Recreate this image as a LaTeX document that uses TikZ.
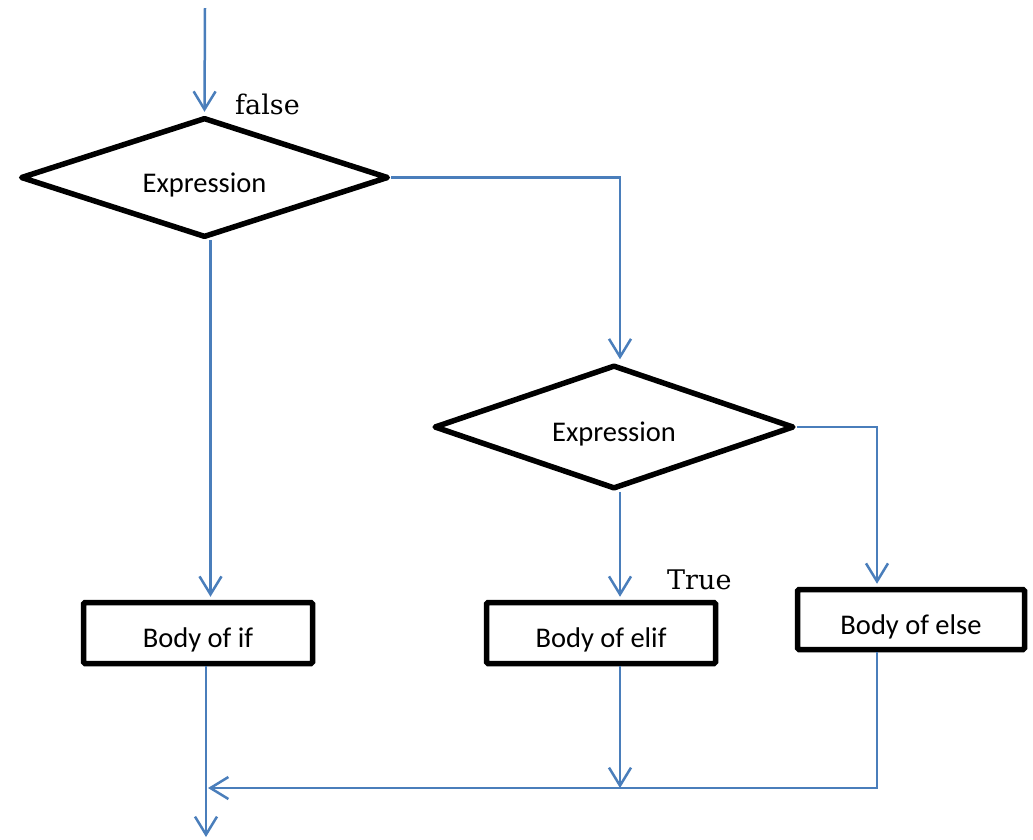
\documentclass[tikz,border=0pt]{standalone}
\usepackage{fontspec}
\setmainfont{Carlito}
\newfontfamily\labelfont{DejaVu Serif}
\usetikzlibrary{shapes.geometric,arrows.meta,calc}
\definecolor{flowblue}{RGB}{74,126,187}
\tikzset{
  decision/.style={diamond, aspect=3, draw=black, line width=5.5pt, line join=round,
    inner sep=0pt, text height=29pt, text depth=0pt,
    font=\fontsize{28.5}{30}\selectfont},
  stepbox/.style={rectangle, draw=black, line width=5.5pt, rounded corners=1.5pt,
    inner sep=0pt, text height=29pt, text depth=0pt,
    font=\fontsize{28.5}{30}\selectfont},
  flow/.style={draw=flowblue, line width=2.5pt,
    -{Straight Barb[length=18pt,width=22pt]}},
  branchlabel/.style={anchor=base west, inner sep=0pt,
    font=\labelfont\fontsize{27}{29}\selectfont}
}
\begin{document}
\begin{tikzpicture}[x=1pt,y=-1pt]
\useasboundingbox (0,0) rectangle (1033,839);

% decisions
\node[decision, minimum width=368pt, minimum height=120pt] (d1) at (204.5,177.5) {Expression};
\node[decision, minimum width=360pt, minimum height=124pt] (d2) at (614,427) {Expression};

% bodies
\node[stepbox, minimum width=229pt, minimum height=61pt] (bif)   at (198,633)   {Body of if};
\node[stepbox, minimum width=229pt, minimum height=61pt] (belif) at (601,633)   {Body of elif};
\node[stepbox, minimum width=227pt, minimum height=60pt] (belse) at (911,619.5) {Body of else};

% branch labels
\node[branchlabel] (lfalse) at (235,114) {false};
\node[branchlabel] (ltrue)  at (667,589) {True};

% free ends
\coordinate (entry) at (205,8);
\coordinate (join)  at (208,788);
\coordinate (exit)  at (206,837);

% connectors
\draw[flow] (entry) -- ($(d1.north)+(0,-3)$);
\draw[flow] ($(d1.south)+(6,0)$) -- ($(d1.south |- bif.north)+(6,-3)$);
\draw[flow] (d1.east) -| ($(d2.north)+(6,-3)$);
\draw[flow] ($(d2.south)+(6,0)$) -- ($(d2.south |- belif.north)+(6,-3)$);
\draw[flow] (d2.east) -| ($(belse.north)+(-34,-3)$);
\draw[flow] ($(belif.south)+(19,0)$) -- ($(belif.south |- join)+(19,0)$);
\draw[flow] ($(belse.south)+(-34,0)$) |- (join);
\draw[flow] ($(bif.south)+(8,0)$) -- (exit);
\end{tikzpicture}
\end{document}
